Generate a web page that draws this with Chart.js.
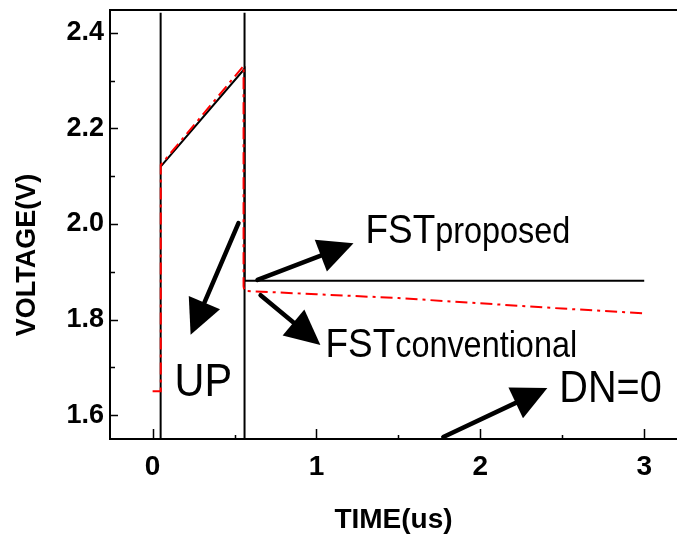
<!DOCTYPE html>
<html>
<head>
<meta charset="utf-8">
<script src="https://cdn.jsdelivr.net/npm/chart.js@4.4.0/dist/chart.umd.min.js"></script>
<style>
  html, body { margin: 0; padding: 0; background: #fff; }
  #wrap { width: 677px; height: 542px; position: relative; }
</style>
</head>
<body>
<div id="wrap"><canvas id="myChart"></canvas></div>
<script>
// FST output voltage during / after an UP pulse (DN=0)
const proposedTime = [0.049, 0.561, 0.561, 3.0];
const proposedVolt = [2.12, 2.325, 1.881, 1.881];

const conventionalTime = [0.0, 0.05, 0.05, 0.555, 0.555, 0.56, 1.0, 1.5, 2.0, 2.5, 3.0];
const conventionalVolt = [1.65, 1.65, 2.124, 2.331, 1.87, 1.86, 1.853, 1.845, 1.834, 1.823, 1.813];

// UP pulse edges, full height
const upEdgeTime = [0.049, 0.561];
const upEdgeVolt = [1.55, 2.442];

const xTickLabels = ['0', '1', '2', '3'];
const yTickLabels = ['1.6', '1.8', '2.0', '2.2', '2.4'];

const FONT = '"Liberation Sans", Arial, sans-serif';

// arrows + text notes, in (time, voltage)
const notes = [
  { text: 'UP', size: 46, at: [0.134, 1.640], from: [0.524, 2.002], to: [0.232, 1.768] },
  { text: 'FST', sub: 'proposed', size: 41, at: [1.299, 1.960], from: [0.640, 1.883], to: [1.226, 1.960] },
  { text: 'FST', sub: 'conventional', size: 41, at: [1.055, 1.721], from: [0.659, 1.851], to: [1.024, 1.747] },
  { text: 'DN=0', size: 44, at: [2.482, 1.627], from: [1.774, 1.554], to: [2.409, 1.657] }
];

Chart.defaults.color = '#000';
Chart.defaults.font.family = FONT;

function pts(xs, ys) {
  return xs.map((t, i) => ({ x: t, y: ys[i] }));
}

function drawArrow(ctx, x0, y0, x1, y1) {
  const ang = Math.atan2(y1 - y0, x1 - x0);
  const len = 35, half = 17;
  const bx = x1 - len * Math.cos(ang), by = y1 - len * Math.sin(ang);
  ctx.lineWidth = 4.5;
  ctx.lineCap = 'round';
  ctx.beginPath();
  ctx.moveTo(x0, y0);
  ctx.lineTo(bx, by);
  ctx.stroke();
  ctx.beginPath();
  ctx.moveTo(x1, y1);
  ctx.lineTo(bx + half * Math.sin(ang), by - half * Math.cos(ang));
  ctx.lineTo(bx - half * Math.sin(ang), by + half * Math.cos(ang));
  ctx.closePath();
  ctx.fill();
}

// inward ticks, top frame line, notes and the y title
const frame = {
  id: 'frame',
  afterDraw(chart) {
    const { ctx, chartArea: a, scales: { x, y } } = chart;
    ctx.save();
    ctx.strokeStyle = '#000';
    ctx.fillStyle = '#000';

    ctx.lineWidth = 1.5;
    ctx.beginPath();
    y.ticks.forEach(t => {
      const py = Math.round(y.getPixelForValue(t.value)) + 0.5;
      ctx.moveTo(a.left, py);
      ctx.lineTo(a.left + (t.label ? 8 : 5), py);
    });
    x.ticks.forEach(t => {
      const px = Math.round(x.getPixelForValue(t.value)) + 0.5;
      ctx.moveTo(px, a.bottom);
      ctx.lineTo(px, a.bottom - (t.label ? 10 : 4));
    });
    ctx.stroke();

    ctx.lineWidth = 2;
    ctx.beginPath();
    ctx.moveTo(a.left - 1, a.top);
    ctx.lineTo(a.right, a.top);
    ctx.stroke();

    notes.forEach(n => {
      drawArrow(ctx,
        x.getPixelForValue(n.from[0]), y.getPixelForValue(n.from[1]),
        x.getPixelForValue(n.to[0]), y.getPixelForValue(n.to[1]));
      ctx.save();
      ctx.translate(x.getPixelForValue(n.at[0]), y.getPixelForValue(n.at[1]));
      ctx.scale(0.9, 1);
      ctx.textAlign = 'left';
      ctx.textBaseline = 'alphabetic';
      ctx.font = n.size + 'px ' + FONT;
      ctx.fillText(n.text, 0, 0);
      if (n.sub) {
        const w = ctx.measureText(n.text).width;
        ctx.font = '36px ' + FONT;
        ctx.fillText(n.sub, w, 0);
      }
      ctx.restore();
    });

    ctx.translate(28, y.getPixelForValue(1.935));
    ctx.rotate(-Math.PI / 2);
    ctx.font = 'bold 27px ' + FONT;
    ctx.textAlign = 'center';
    ctx.textBaseline = 'middle';
    ctx.fillText('VOLTAGE(V)', 0, 0);
    ctx.restore();
  }
};

const ctx = document.getElementById('myChart').getContext('2d');

const edgeSets = upEdgeTime.map(t => ({
  label: 'UP edge',
  data: pts(upEdgeVolt.map(() => t), upEdgeVolt),
  borderColor: '#000',
  borderWidth: 2
}));

const myChart = new Chart(ctx, {
  type: 'line',
  data: {
    datasets: [
      {
        label: 'FST conventional',
        data: pts(conventionalTime, conventionalVolt),
        borderColor: '#ff0000',
        borderWidth: 2,
        borderDash: [12, 5, 3, 5]
      },
      {
        label: 'FST proposed',
        data: pts(proposedTime, proposedVolt),
        borderColor: '#000',
        borderWidth: 2
      },
      ...edgeSets
    ]
  },
  options: {
    responsive: true,
    maintainAspectRatio: false,
    animation: false,
    layout: { padding: { top: 10, left: 0, right: 0, bottom: 0 } },
    elements: {
      point: { radius: 0 },
      line: { tension: 0, fill: false, borderJoinStyle: 'miter' }
    },
    plugins: {
      legend: { display: false },
      tooltip: { enabled: false }
    },
    scales: {
      x: {
        type: 'linear',
        min: -0.26,
        max: 3.2,
        grid: { display: true, drawOnChartArea: false, drawTicks: false },
        border: { display: true, color: '#000', width: 2 },
        ticks: {
          stepSize: 0.5,
          includeBounds: false,
          autoSkip: false,
          maxRotation: 0,
          padding: 11,
          font: { size: 28, weight: 'bold' },
          callback: v => xTickLabels.includes(String(v)) ? String(v) : ''
        },
        title: {
          display: true,
          text: 'TIME(us)',
          font: { size: 28, weight: 'bold' },
          padding: { top: 0, bottom: 5 }
        },
        afterFit: s => { s.height = 103; s.paddingLeft = 0; s.paddingRight = 0; }
      },
      y: {
        type: 'linear',
        min: 1.55,
        max: 2.448,
        grid: { display: true, drawOnChartArea: false, drawTicks: false },
        border: { display: true, color: '#000', width: 2 },
        ticks: {
          stepSize: 0.1,
          includeBounds: false,
          autoSkip: false,
          padding: 6,
          font: { size: 27, weight: 'bold' },
          callback: v => yTickLabels.includes(v.toFixed(1)) ? v.toFixed(1) : ''
        },
        afterFit: s => { s.width = 110; s.paddingTop = 0; s.paddingBottom = 0; }
      }
    }
  },
  plugins: [frame]
});
</script>
</body>
</html>
